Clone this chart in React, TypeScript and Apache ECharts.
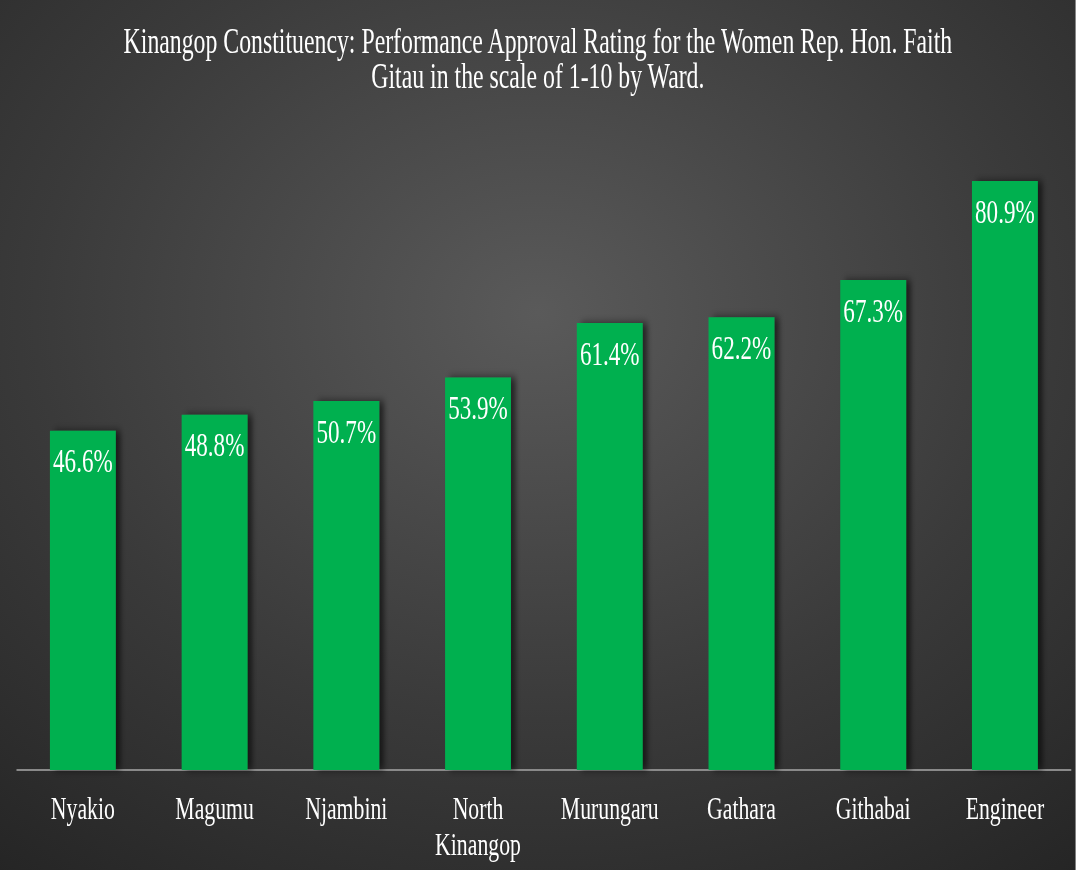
import React, { useEffect, useRef } from "react";
import * as echarts from "echarts";

const titleText =
  "Kinangop Constituency: Performance Approval Rating for the Women Rep. Hon. Faith\nGitau in the scale of 1-10 by Ward.";
const wards = ["Nyakio", "Magumu", "Njambini", "North\nKinangop", "Murungaru", "Gathara", "Githabai", "Engineer"];
const ratings = [46.6, 48.8, 50.7, 53.9, 61.4, 62.2, 67.3, 80.9];

const SX = 0.68;
const VIEW_W = 1076;
const VIEW_H = 870;

export default function App() {
  const ref = useRef<HTMLDivElement>(null);
  useEffect(() => {
    document.body.style.margin = "0";
    if (!ref.current) return;
    const chart = echarts.init(ref.current, undefined, { renderer: "svg" });
    const font = "'Liberation Serif', 'Times New Roman', serif";
    chart.setOption({
      animation: false,
      backgroundColor: new echarts.graphic.RadialGradient(0.5, 0.36, 0.85, [
        { offset: 0, color: "#5a5a5a" },
        { offset: 0.55, color: "#3a3a3a" },
        { offset: 1, color: "#232323" },
      ]),
      title: {
        text: titleText,
        left: "center",
        top: 18,
        textStyle: {
          color: "#ffffff",
          fontFamily: font,
          fontWeight: "normal",
          fontSize: 35,
          lineHeight: 35,
        },
      },
      grid: { left: 17 / SX, right: 5 / SX, top: 42, bottom: 100 },
      xAxis: {
        type: "category",
        data: wards,
        axisLine: { lineStyle: { color: "#8a8a8a", width: 2 } },
        axisTick: { show: false },
        axisLabel: {
          color: "#ffffff",
          fontFamily: font,
          fontSize: 32,
          lineHeight: 36,
          margin: 20,
          interval: 0,
        },
      },
      yAxis: {
        type: "value",
        min: 0,
        max: 100,
        show: false,
        splitLine: { show: false },
      },
      series: [
        {
          type: "bar",
          data: ratings,
          barWidth: "50%",
          itemStyle: {
            color: "#00b050",
            shadowColor: "rgba(0,0,0,0.55)",
            shadowBlur: 8,
            shadowOffsetX: 7,
            shadowOffsetY: 0,
          },
          label: {
            show: true,
            position: "insideTop",
            distance: 13,
            formatter: "{c}%",
            color: "#ffffff",
            fontFamily: font,
            fontSize: 34,
          },
        },
      ],
    });
    return () => chart.dispose();
  }, []);
  return (
    <div style={{ width: VIEW_W, height: VIEW_H, overflow: "hidden" }}>
      <div
        ref={ref}
        style={{
          width: VIEW_W / SX,
          height: VIEW_H,
          transform: `scaleX(${SX})`,
          transformOrigin: "0 0",
        }}
      />
    </div>
  );
}
